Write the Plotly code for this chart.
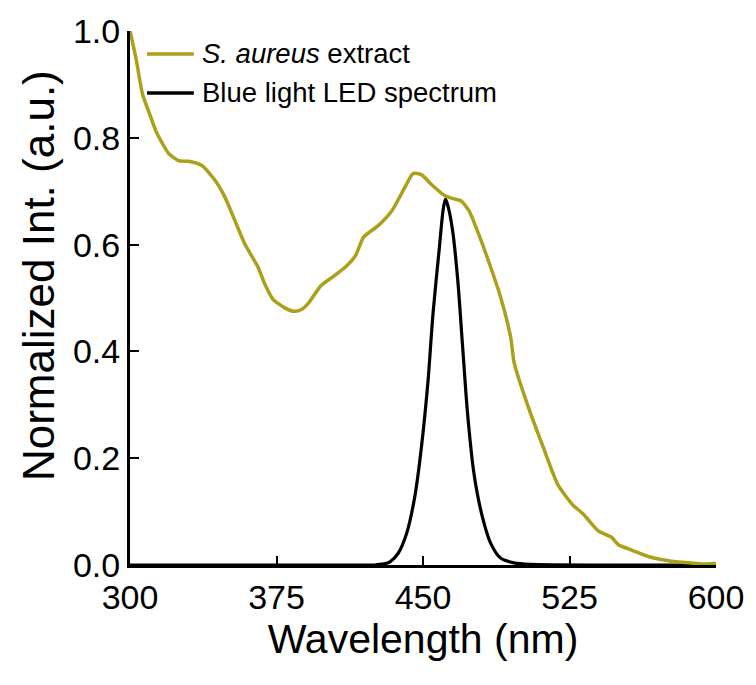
import plotly.graph_objects as go

# S. aureus extract (normalized)
sa_wl = [300, 303, 306.4, 310, 313.2, 316.5, 319.9, 325, 330, 336.8, 343.6, 348.7, 353.7,
         358.8, 365.5, 368.9, 373.1, 379, 384.1, 388, 391.7, 397.7, 403.6, 410.3, 415.4,
         419.6, 427.2, 434, 440.7, 444.9, 449.1, 454.2, 461, 465.5, 469.4, 473.6, 477.8,
         484.6, 489.7, 494.9, 496.7, 503.6, 511.3, 519.1, 526.8, 531.9, 539.7, 546.5, 550,
         556.8, 565.4, 575.7, 586, 593, 600]
sa_val = [1.0, 0.95, 0.882, 0.845, 0.813, 0.79, 0.770, 0.757, 0.756, 0.748, 0.720, 0.688, 0.645,
          0.601, 0.558, 0.527, 0.498, 0.482, 0.475, 0.479, 0.492, 0.523, 0.539, 0.558, 0.579,
          0.614, 0.636, 0.663, 0.707, 0.733, 0.731, 0.713, 0.692, 0.686, 0.682, 0.663, 0.626,
          0.558, 0.502, 0.426, 0.378, 0.299, 0.223, 0.150, 0.112, 0.096, 0.064, 0.052, 0.038,
          0.028, 0.016, 0.008, 0.004, 0.002, 0.003]

# Blue light LED spectrum (normalized)
led_wl = [300, 350, 400, 425, 430, 433.1, 437.3, 441.6, 445.8, 449.2, 452.6, 455.1, 458.4,
          460.3, 461.5, 462.8, 465.2, 467.8, 470.3, 472.8, 476.1, 480.4, 484.6, 489.7, 496.5,
          505, 550, 600]
led_val = [0.0, 0.0, 0.0, 0.0, 0.002, 0.006, 0.022, 0.059, 0.128, 0.221, 0.346, 0.470, 0.595,
           0.665, 0.685, 0.672, 0.625, 0.533, 0.408, 0.284, 0.171, 0.090, 0.041, 0.013, 0.004,
           0.001, 0.0, 0.0]

x_ticks = [300, 375, 450, 525, 600]
y_ticks = [0.0, 0.2, 0.4, 0.6, 0.8, 1.0]
legend_names = ["<i>S. aureus</i> extract", "Blue light LED spectrum"]
colors = ["#ABA01A", "#000000"]
x_title = "Wavelength (nm)"
y_title = "Normalized Int. (a.u.)"

FONT = "Liberation Sans, Arial, sans-serif"

fig = go.Figure()
fig.add_trace(go.Scatter(x=led_wl, y=led_val, mode="lines",
                         line=dict(color=colors[1], width=3.2, shape="spline", smoothing=0.8),
                         showlegend=False))
fig.add_trace(go.Scatter(x=sa_wl, y=sa_val, mode="lines",
                         line=dict(color=colors[0], width=3.5, shape="spline", smoothing=0.6),
                         showlegend=False))

# manual legend
leg_y = [0.957, 0.884]
for name, col, yy in zip(legend_names, colors, leg_y):
    fig.add_shape(type="line", xref="paper", yref="paper", x0=0.029, x1=0.109, y0=yy, y1=yy,
                  line=dict(color=col, width=3.5))
    fig.add_annotation(xref="paper", yref="paper", x=0.12, y=yy, text=name, showarrow=False,
                       xanchor="left", yanchor="middle", font=dict(family=FONT, size=27.5, color="black"))

# y axis title as rotated annotation
fig.add_annotation(xref="paper", yref="paper", x=-0.157, y=0.543, text=y_title, showarrow=False,
                   textangle=-90, xanchor="center", yanchor="middle",
                   font=dict(family=FONT, size=44, color="black"))

fig.update_layout(
    width=756, height=685,
    margin=dict(l=130, r=33, t=30, b=120),
    paper_bgcolor="white", plot_bgcolor="white",
    font=dict(family=FONT, color="black"),
    showlegend=False,
)
fig.update_xaxes(range=[300, 600], tickvals=x_ticks, ticktext=[str(v) for v in x_ticks],
                 showgrid=False, zeroline=False, showline=True, linecolor="black", linewidth=3,
                 ticks="inside", ticklen=9, tickwidth=2, tickcolor="black",
                 tickfont=dict(family=FONT, size=34),
                 title=dict(text=x_title, font=dict(family=FONT, size=41), standoff=10))
fig.update_yaxes(range=[0, 1], tickvals=y_ticks, ticktext=[f"{v:.1f}" for v in y_ticks],
                 showgrid=False, zeroline=False, showline=True, linecolor="black", linewidth=3,
                 ticks="inside", ticklen=9, tickwidth=2, tickcolor="black",
                 tickfont=dict(family=FONT, size=34))

fig.write_html("out.html")
